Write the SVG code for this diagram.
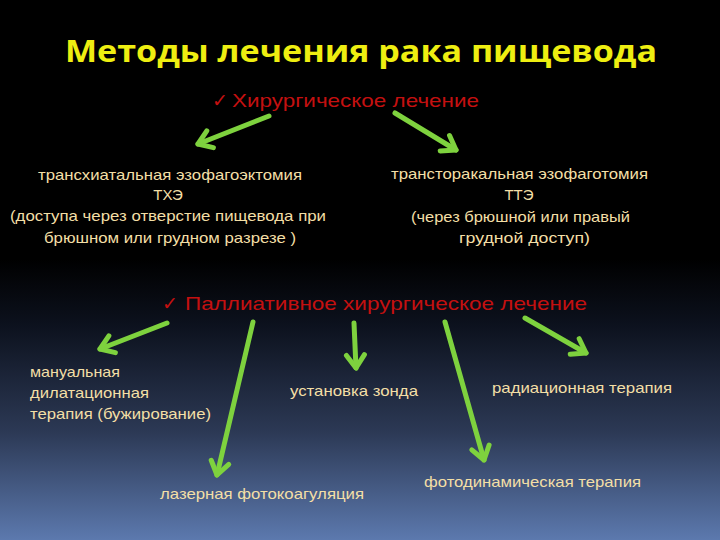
<svg xmlns="http://www.w3.org/2000/svg" width="720" height="540" viewBox="0 0 720 540">
<defs>
<linearGradient id="bg" x1="0" y1="0" x2="0" y2="1">
<stop offset="0" stop-color="#000000"/>
<stop offset="0.48" stop-color="#000000"/>
<stop offset="0.6" stop-color="#0c111d"/>
<stop offset="0.8" stop-color="#2c3955"/>
<stop offset="1" stop-color="#5c79ae"/>
</linearGradient>
<marker id="ah" markerUnits="userSpaceOnUse" markerWidth="30" markerHeight="30" viewBox="-20 -15 30 30" refX="0" refY="0" orient="auto">
<path d="M-13,-9 L0,0 L-13,9" fill="none" stroke="#7ed23e" stroke-width="5" stroke-linecap="round" stroke-linejoin="round"/>
</marker>
<style>
.title{font-family:"Open Sans","Liberation Sans",sans-serif;font-weight:bold;font-size:31px;fill:#eeee11}
.head{font-family:"Liberation Sans","Open Sans",sans-serif;font-size:19px;fill:#c41010}
.chk{font-family:"DejaVu Sans",sans-serif;font-size:19px;fill:#c41010}
.t{font-family:"Liberation Sans","Open Sans",sans-serif;font-size:15px;fill:#f3dfa6}
.c{text-anchor:middle}
.arr{fill:none;stroke:#7ed23e;stroke-width:5;stroke-linecap:round;marker-end:url(#ah)}
</style>
</defs>
<rect x="0" y="0" width="720" height="540" fill="url(#bg)"/>

<g id="title"><text class="title" x="65" y="62" textLength="592" lengthAdjust="spacingAndGlyphs">Методы лечения рака пищевода</text></g>

<g id="surgical">
<text class="chk" x="212" y="107">✓</text>
<text class="head" x="232" y="107" textLength="247" lengthAdjust="spacingAndGlyphs">Хирургическое лечение</text>
</g>

<g id="the">
<text class="t" x="38" y="180" textLength="264" lengthAdjust="spacingAndGlyphs">трансхиатальная эзофагоэктомия</text>
<text class="t c" x="168" y="200">ТХЭ</text>
<text class="t" x="10" y="221" textLength="316" lengthAdjust="spacingAndGlyphs">(доступа через отверстие пищевода при</text>
<text class="t" x="44" y="243" textLength="252" lengthAdjust="spacingAndGlyphs">брюшном или грудном разрезе )</text>
</g>

<g id="tte">
<text class="t" x="391" y="179" textLength="257" lengthAdjust="spacingAndGlyphs">трансторакальная эзофаготомия</text>
<text class="t c" x="519" y="200">ТТЭ</text>
<text class="t" x="411" y="222" textLength="219" lengthAdjust="spacingAndGlyphs">(через брюшной или правый</text>
<text class="t" x="459" y="243" textLength="131" lengthAdjust="spacingAndGlyphs">грудной доступ)</text>
</g>

<g id="palliative">
<text class="chk" x="162" y="310">✓</text>
<text class="head" x="185" y="310" textLength="402" lengthAdjust="spacingAndGlyphs">Паллиативное хирургическое лечение</text>
</g>

<g id="manual">
<text class="t" x="30" y="377" textLength="90" lengthAdjust="spacingAndGlyphs">мануальная</text>
<text class="t" x="30" y="398" textLength="119" lengthAdjust="spacingAndGlyphs">дилатационная</text>
<text class="t" x="30" y="419" textLength="181" lengthAdjust="spacingAndGlyphs">терапия (бужирование)</text>
</g>

<g id="probe"><text class="t" x="290" y="396" textLength="128" lengthAdjust="spacingAndGlyphs">установка зонда</text></g>
<g id="radiation"><text class="t" x="492" y="393" textLength="180" lengthAdjust="spacingAndGlyphs">радиационная терапия</text></g>
<g id="laser"><text class="t" x="160" y="499" textLength="204" lengthAdjust="spacingAndGlyphs">лазерная фотокоагуляция</text></g>
<g id="pdt"><text class="t" x="424" y="487" textLength="217" lengthAdjust="spacingAndGlyphs">фотодинамическая терапия</text></g>

<g id="connectors">
<line class="arr" x1="269" y1="116" x2="198" y2="144"/>
<line class="arr" x1="395" y1="113" x2="456" y2="150"/>
<line class="arr" x1="167" y1="323" x2="100" y2="349"/>
<line class="arr" x1="253" y1="322" x2="217" y2="475"/>
<line class="arr" x1="354" y1="323" x2="356" y2="368"/>
<line class="arr" x1="445" y1="322" x2="484" y2="460"/>
<line class="arr" x1="525" y1="318" x2="586" y2="353"/>
</g>
</svg>
